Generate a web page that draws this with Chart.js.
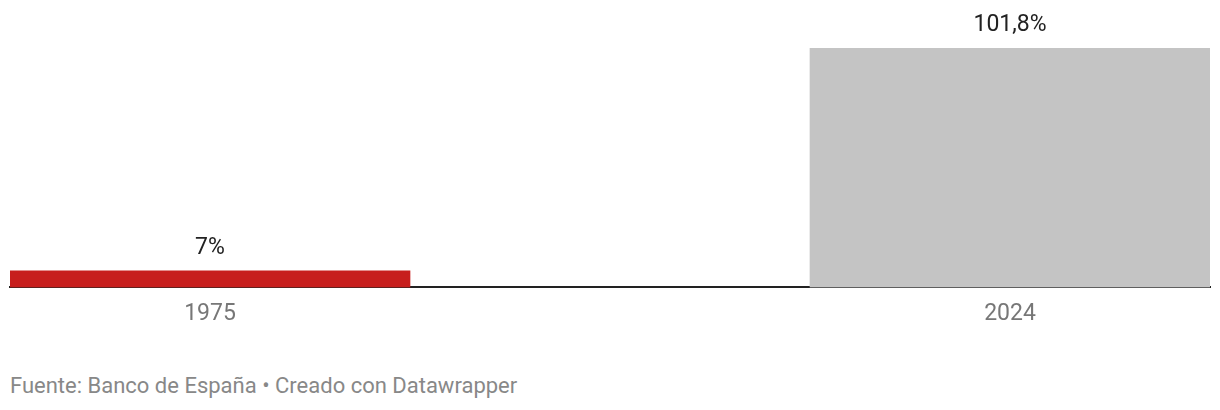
<!DOCTYPE html>
<html lang="es">
<head>
<meta charset="utf-8">
<script src="https://cdn.jsdelivr.net/npm/chart.js@4"></script>
<style>
    html, body { margin: 0; padding: 0; background: #fff; }
    body { width: 1220px; height: 410px; position: relative; overflow: hidden; font-family: Roboto, sans-serif; }
    .chart-wrap { position: absolute; left: 0; top: 0; width: 1220px; height: 341px; }
    .footer { position: absolute; left: 10px; top: 373px; font-size: 22px; color: #888; }
</style>
</head>
<body>
<div class="chart-wrap"><canvas id="barChart"></canvas></div>
<div class="footer">Fuente: Banco de España • Creado con Datawrapper</div>
<script>
// Chart data
const years = ['1975', '', '2024'];
const shares = [7, null, 101.8];
const barColors = ['#c71e1d', 'rgba(0,0,0,0)', '#c4c4c4'];

/**
 * Value labels above each bar, Spanish decimal comma
 */
const valueLabels = {
    id: 'valueLabels',
    afterDatasetsDraw(chart) {
        const { ctx } = chart;
        const meta = chart.getDatasetMeta(0);
        ctx.save();
        ctx.font = '23px Roboto, sans-serif';
        ctx.fillStyle = '#222';
        ctx.textAlign = 'center';
        ctx.textBaseline = 'middle';
        meta.data.forEach((bar, i) => {
            const v = shares[i];
            if (v === null) return;
            ctx.fillText(String(v).replace('.', ',') + '%', bar.x, bar.y - 23);
        });
        ctx.restore();
    }
};

new Chart(document.getElementById('barChart'), {
    type: 'bar',
    data: {
        labels: years,
        datasets: [{
            data: shares,
            backgroundColor: barColors,
            barPercentage: 1,
            categoryPercentage: 1
        }]
    },
    options: {
        responsive: true,
        maintainAspectRatio: false,
        animation: false,
        layout: { padding: { left: 10, right: 10, top: 48, bottom: 0 } },
        plugins: {
            legend: { display: false },
            tooltip: { enabled: false }
        },
        scales: {
            y: {
                display: false,
                min: 0,
                max: 101.8
            },
            x: {
                grid: { display: false, drawTicks: false },
                border: { display: true, color: '#222', width: 2 },
                ticks: {
                    color: '#777',
                    padding: 13,
                    font: { family: 'Roboto', size: 23 }
                }
            }
        }
    },
    plugins: [valueLabels]
});
</script>
</body>
</html>
